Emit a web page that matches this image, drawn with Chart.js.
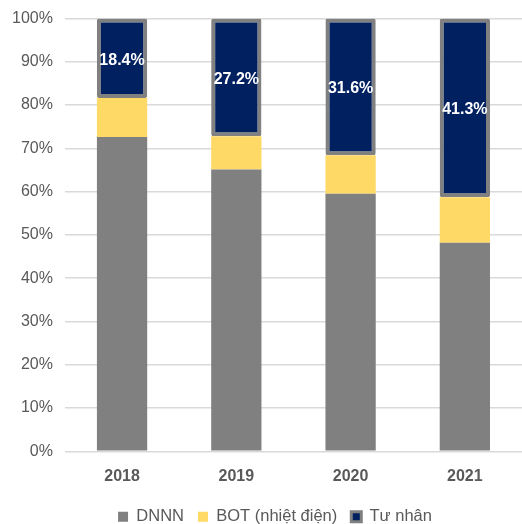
<!DOCTYPE html>
<html>
<head>
<meta charset="utf-8">
<script src="https://cdn.jsdelivr.net/npm/chart.js@4/dist/chart.umd.min.js"></script>
<style>
html,body{margin:0;padding:0;background:#fff;overflow:hidden;}
canvas{display:block;}
</style>
</head>
<body>
<canvas id="c" width="522" height="524"></canvas>
<script>
const categories = ['2018', '2019', '2020', '2021'];
const dnnn = [72.6, 65.1, 59.5, 48.2];
const bot = [9.0, 7.7, 8.9, 10.5];
const tuNhan = [18.4, 27.2, 31.6, 41.3];
const seriesNames = ['DNNN', 'BOT (nhiệt điện)', 'Tư nhân'];
const yTicks = [0, 10, 20, 30, 40, 50, 60, 70, 80, 90, 100];

const FONT = '"Liberation Sans", Arial, sans-serif';

const labelPlugin = {
  id: 'barLabels',
  afterLayout(chart) {
    if (chart.legend) { chart.legend.left += 14; chart.legend.right += 14; }
  },
  afterDatasetsDraw(chart) {
    const ctx = chart.ctx;
    const meta = chart.getDatasetMeta(2);
    ctx.save();
    ctx.fillStyle = '#ffffff';
    ctx.font = 'bold 16px ' + FONT;
    ctx.textAlign = 'center';
    ctx.textBaseline = 'middle';
    meta.data.forEach((el, i) => {
      const p = el.getProps(['x', 'y', 'base'], true);
      ctx.fillText(tuNhan[i].toFixed(1) + '%', p.x, (p.y + p.base) / 2 + 2);
    });
    ctx.restore();
  }
};

new Chart(document.getElementById('c'), {
  type: 'bar',
  data: {
    labels: categories,
    datasets: [
      { label: seriesNames[0], data: dnnn, backgroundColor: '#808080', borderWidth: 0 },
      { label: seriesNames[1], data: bot, backgroundColor: '#FFD966', borderWidth: 0 },
      { label: seriesNames[2], data: tuNhan, backgroundColor: '#002060', borderColor: '#808080',
        borderWidth: 4, borderSkipped: false, borderRadius: 2 }
    ]
  },
  options: {
    responsive: false,
    animation: false,
    devicePixelRatio: 1,
    categoryPercentage: 1,
    barPercentage: 0.44,
    layout: { padding: { left: 0, right: 0, top: 0, bottom: -11 } },
    plugins: {
      tooltip: { enabled: false },
      legend: {
        position: 'bottom',
        labels: {
          color: '#595959',
          font: { family: FONT, size: 16.5 },
          boxWidth: 10,
          boxHeight: 10,
          padding: 14,
          generateLabels(chart) {
            const ds = chart.data.datasets;
            return ds.map((d, i) => ({
              text: d.label,
              fillStyle: d.backgroundColor,
              strokeStyle: i === 2 ? '#808080' : d.backgroundColor,
              lineWidth: i === 2 ? 3 : 0,
              fontColor: '#595959',
              datasetIndex: i,
              hidden: false
            }));
          }
        }
      }
    },
    scales: {
      x: {
        stacked: true,
        grid: { display: false },
        border: { display: false },
        ticks: { color: '#595959', font: { family: FONT, size: 16, weight: 'bold' }, padding: 8 }
      },
      y: {
        stacked: true,
        min: 0,
        max: 100,
        afterBuildTicks(axis) { axis.ticks = yTicks.map(v => ({ value: v })); },
        grid: { color: '#D9D9D9', lineWidth: 1.5, drawTicks: false },
        border: { display: false },
        ticks: { color: '#595959', font: { family: FONT, size: 16, lineHeight: 0.8 }, padding: 12,
          callback: v => v + '%' }
      }
    }
  },
  plugins: [labelPlugin]
});
</script>
</body>
</html>
